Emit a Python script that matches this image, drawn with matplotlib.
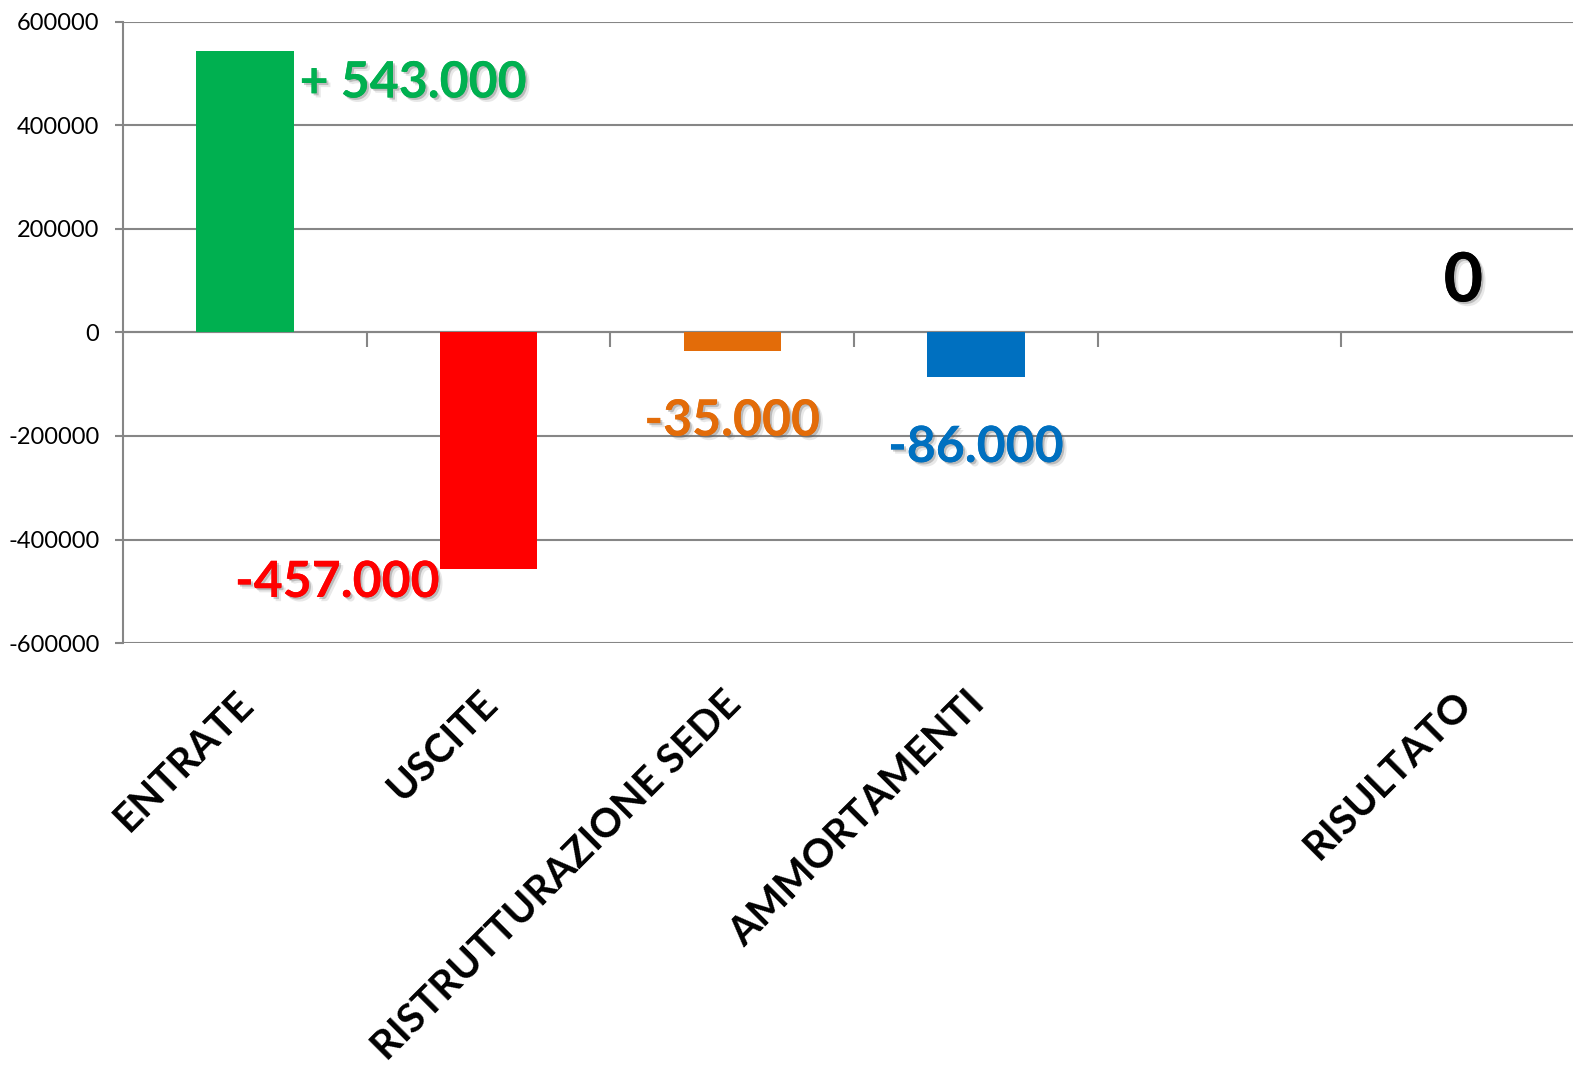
import numpy as np
import matplotlib
matplotlib.use("Agg")
import matplotlib.pyplot as plt
import matplotlib.patheffects as pe
import matplotlib.transforms as mtransforms

# data
categories = ["ENTRATE", "USCITE", "RISTRUTTURAZIONE SEDE", "AMMORTAMENTI", "", "RISULTATO"]
values = [543000, -457000, -35000, -86000, 0, 0]
bar_colors = ["#00B050", "#FF0000", "#E36C09", "#0070C0", "#FFFFFF", "#000000"]
shown_labels = [True, True, True, True, False, True]


def fmt(v):
    s = f"{abs(v):,.0f}".replace(",", ".")
    if v > 0:
        return "+ " + s
    if v < 0:
        return "-" + s
    return s


plt.rcParams["font.family"] = ["Lato", "DejaVu Sans"]
plt.rcParams["axes.unicode_minus"] = False
grid_col = "#868686"

fig = plt.figure(figsize=(15.73, 10.66), dpi=100)
ax = fig.add_axes([0.0782, 0.3968, 0.9218, 0.5826])

x = np.arange(len(categories))
ax.bar(x, values, width=0.4, color=bar_colors, zorder=3)

ax.set_ylim(-600000, 600000)
ax.set_xlim(-0.5, 5.45)
ax.set_yticks(np.arange(-600000, 600001, 200000))
ax.yaxis.grid(True, color=grid_col, linewidth=1.5, zorder=0)
ax.set_axisbelow(True)
for s in ["top", "right", "bottom"]:
    ax.spines[s].set_visible(False)
ax.spines["left"].set_color(grid_col)
ax.spines["left"].set_linewidth(1.5)
ax.tick_params(axis="y", length=6, width=1.5, color=grid_col, labelsize=17, pad=11)

ax.set_xticks(x)
ax.set_xticklabels(categories, rotation=45, ha="right", va="top",
                   rotation_mode="anchor", fontsize=29, fontweight="bold")
ax.tick_params(axis="x", length=0, pad=30)
shift = mtransforms.ScaledTranslation(-10 / 100, 0, fig.dpi_scale_trans)
for lab in ax.get_xticklabels():
    lab.set_transform(lab.get_transform() + shift)

# category separators on the zero line
sec = ax.secondary_xaxis(0.5)
sec.set_xticks(np.arange(len(categories) - 1) + 0.5, labels=[""] * (len(categories) - 1))
sec.tick_params(axis="x", direction="in", length=11, width=1.5, color=grid_col)
for s in sec.spines.values():
    s.set_color(grid_col)
    s.set_linewidth(1.5)

# value labels with soft shadow
shadow = [pe.withSimplePatchShadow(offset=(3, -3), shadow_rgbFace="#666666", alpha=0.15),
          pe.withSimplePatchShadow(offset=(1.5, -1.5), shadow_rgbFace="#555555", alpha=0.3)]
offsets = [(6, -46), (0, -28), (0, -85), (0, -85), (0, 0), (0, 31)]
aligns = ["left", "right", "center", "center", "center", "center"]
anchors_x = [0.2, -0.2, 0, 0, 0, 0]
for i, v in enumerate(values):
    if not shown_labels[i]:
        continue
    size = 49 if categories[i] == "RISULTATO" else 36
    ax.annotate(fmt(v), xy=(x[i] + anchors_x[i], v), xytext=offsets[i],
                textcoords="offset pixels", ha=aligns[i], va="baseline",
                fontsize=size, fontweight="bold", color=bar_colors[i],
                path_effects=shadow, zorder=5, annotation_clip=False)

plt.savefig("out.png", dpi=100)
